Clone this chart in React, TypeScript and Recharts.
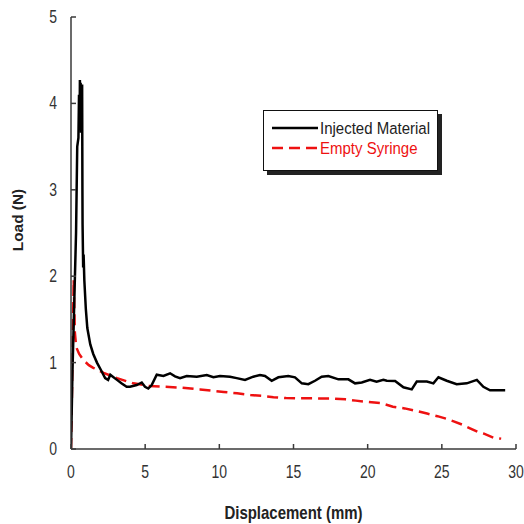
import React from "react";
import { LineChart, Line, XAxis, YAxis } from "recharts";

const seriesNames = ["Injected Material", "Empty Syringe"];
const seriesColors = ["#000000", "#ee1111"];

const xTicks = [0, 5, 10, 15, 20, 25, 30];
const yTicks = [0, 1, 2, 3, 4, 5];

const injectedDisp = [
  0, 0.1, 0.25, 0.34, 0.42, 0.5, 0.54, 0.58, 0.6, 0.63, 0.65, 0.68, 0.7, 0.73, 0.75, 0.77, 0.78, 0.82, 0.85, 0.9,
  1.0, 1.1, 1.3, 1.5, 1.75, 2.0, 2.3, 2.5, 2.65, 2.8, 3.1, 3.4, 3.75, 3.98, 4.43, 4.77, 4.99, 5.21, 5.44, 5.78,
  6.23, 6.68, 7.01, 7.35, 7.8, 8.48, 9.15, 9.6, 10.05, 10.72, 11.17, 11.73, 12.29, 12.74, 13.08, 13.53, 13.98,
  14.65, 15.1, 15.56, 16.0, 16.45, 16.9, 17.35, 18.03, 18.7, 19.15, 19.6, 20.16, 20.6, 21.06, 21.29, 21.85,
  22.41, 22.97, 23.31, 23.99, 24.43, 24.77, 25.33, 26.0, 26.68, 27.36, 27.8, 28.25, 29.27,
];
const injectedLoad = [
  0, 0.9, 1.9, 2.5, 3.5, 3.6, 4.1, 3.7, 4.27, 3.7, 4.24, 3.66, 4.2, 3.7, 4.22, 3.0, 2.6, 2.1, 2.25, 1.95,
  1.62, 1.4, 1.21, 1.1, 1.0, 0.92, 0.82, 0.8, 0.86, 0.84, 0.8, 0.76, 0.72, 0.72, 0.74, 0.77, 0.72, 0.7, 0.74, 0.86,
  0.845, 0.876, 0.84, 0.82, 0.845, 0.837, 0.856, 0.83, 0.845, 0.837, 0.82, 0.8, 0.837, 0.856, 0.845, 0.79, 0.83,
  0.845, 0.83, 0.76, 0.75, 0.79, 0.837, 0.845, 0.806, 0.806, 0.76, 0.77, 0.8, 0.78, 0.8, 0.79, 0.787,
  0.714, 0.69, 0.78, 0.78, 0.76, 0.83, 0.79, 0.75, 0.76, 0.8, 0.72, 0.68, 0.68,
];

const syringeDisp = [
  0, 0.1, 0.18, 0.26, 0.35, 0.55, 0.83, 1.2, 1.5, 2.2, 3.1, 4.2, 5.3, 6.3, 7.5, 8.7, 9.5, 10.3, 11.2, 12.1,
  13.0, 13.65, 14.5, 15.4, 16.5, 17.5, 18.5, 19.2, 20.0, 20.9, 21.7, 22.5, 23.3, 24.0, 24.7, 25.3, 25.8, 26.4,
  26.9, 27.4, 27.8, 28.5, 29.0,
];
const syringeLoad = [
  0, 1.0, 1.96, 1.35, 1.18, 1.1, 1.03, 0.97, 0.94, 0.88, 0.82, 0.76, 0.73, 0.72, 0.71, 0.69, 0.675, 0.66, 0.645,
  0.625, 0.613, 0.6, 0.59, 0.586, 0.586, 0.585, 0.575, 0.56, 0.545, 0.53, 0.49, 0.47, 0.44, 0.41, 0.38, 0.35,
  0.32, 0.28, 0.24, 0.2, 0.18, 0.13, 0.12,
];

const injectedData = injectedDisp.map((x, i) => ({ x, y: injectedLoad[i] }));
const syringeData = syringeDisp.map((x, i) => ({ x, y: syringeLoad[i] }));

const FONT = "'Liberation Sans', Arial, sans-serif";
const AXIS = "#3a3a3a";

const XTick = (props: any) => {
  const { x, y, payload } = props;
  return (
    <g>
      <line x1={x} x2={x} y1={y} y2={y - 5} stroke={AXIS} strokeWidth={1.5} />
      <text
        transform={`translate(${x} ${y + 29}) scale(1 1.25)`}
        textAnchor="middle"
        fontFamily={FONT}
        fontSize={14}
        fill="#333"
      >
        {payload.value}
      </text>
    </g>
  );
};

const YTick = (props: any) => {
  const { x, y, payload } = props;
  return (
    <g>
      <line x1={x} x2={x + 5} y1={y} y2={y} stroke={AXIS} strokeWidth={1.5} />
      <text
        transform={`translate(${x - 14} ${y + 6}) scale(1 1.25)`}
        textAnchor="end"
        fontFamily={FONT}
        fontSize={14}
        fill="#333"
      >
        {payload.value}
      </text>
    </g>
  );
};

const YTitle = (props: any) => {
  const vb = props.viewBox || {};
  const cx = vb.x + 18;
  const cy = vb.y + vb.height / 2 - 13;
  return (
    <text
      transform={`translate(${cx + 5} ${cy}) rotate(-90) scale(1.1 1)`}
      textAnchor="middle"
      fontFamily={FONT}
      fontWeight="bold"
      fontSize={14}
      fill="#222"
    >
      Load (N)
    </text>
  );
};

const XTitle = (props: any) => {
  const vb = props.viewBox || {};
  const cx = vb.x + vb.width / 2;
  return (
    <text
      transform={`translate(${cx} ${vb.y + 70}) scale(1 1.2)`}
      textAnchor="middle"
      fontFamily={FONT}
      fontWeight="bold"
      fontSize={15}
      fill="#222"
    >
      Displacement (mm)
    </text>
  );
};

const LegendBox = () => (
  <svg
    width={184}
    height={70}
    style={{ position: "absolute", left: 263, top: 110 }}
  >
    <rect x={4} y={4} width={175} height={61} fill="#222" />
    <rect x={0.5} y={0.5} width={174} height={60} fill="#fff" stroke="#111" strokeWidth={1} />
    <line x1={9} x2={55} y1={18} y2={18} stroke={seriesColors[0]} strokeWidth={2.5} />
    <text
      transform="translate(57 23.5) scale(1 1.15)"
      fontFamily={FONT}
      fontSize={15}
      fill="#222"
    >
      {seriesNames[0]}
    </text>
    <line
      x1={9}
      x2={55}
      y1={38}
      y2={38}
      stroke={seriesColors[1]}
      strokeWidth={2.5}
      strokeDasharray="11 6"
    />
    <text
      transform="translate(57 43.5) scale(1 1.15)"
      fontFamily={FONT}
      fontSize={15}
      fill={seriesColors[1]}
    >
      {seriesNames[1]}
    </text>
  </svg>
);

export default function App() {
  return (
    <div style={{ position: "absolute", left: 0, top: 0, width: 524, height: 524, background: "#fff" }}>
      <LineChart width={524} height={524} margin={{ top: 17, right: 8, bottom: 0, left: 0 }}>
        <XAxis
          type="number"
          dataKey="x"
          domain={[0, 30]}
          ticks={xTicks}
          height={75}
          stroke={AXIS}
          strokeWidth={1.5}
          tickSize={0}
          tickMargin={0}
          tickLine={false}
          tick={<XTick />}
          allowDataOverflow
          label={<XTitle />}
        />
        <YAxis
          type="number"
          dataKey="y"
          domain={[0, 5]}
          ticks={yTicks}
          width={71}
          stroke={AXIS}
          strokeWidth={1.5}
          tickSize={0}
          tickMargin={0}
          tickLine={false}
          tick={<YTick />}
          allowDataOverflow
          label={<YTitle />}
        />
        <Line
          data={syringeData}
          dataKey="y"
          name={seriesNames[1]}
          type="linear"
          stroke={seriesColors[1]}
          strokeWidth={2.5}
          strokeDasharray="11 6"
          dot={false}
          activeDot={false}
          isAnimationActive={false}
        />
        <Line
          data={injectedData}
          dataKey="y"
          name={seriesNames[0]}
          type="linear"
          stroke={seriesColors[0]}
          strokeWidth={2.5}
          dot={false}
          activeDot={false}
          isAnimationActive={false}
        />
      </LineChart>
      <LegendBox />
    </div>
  );
}
